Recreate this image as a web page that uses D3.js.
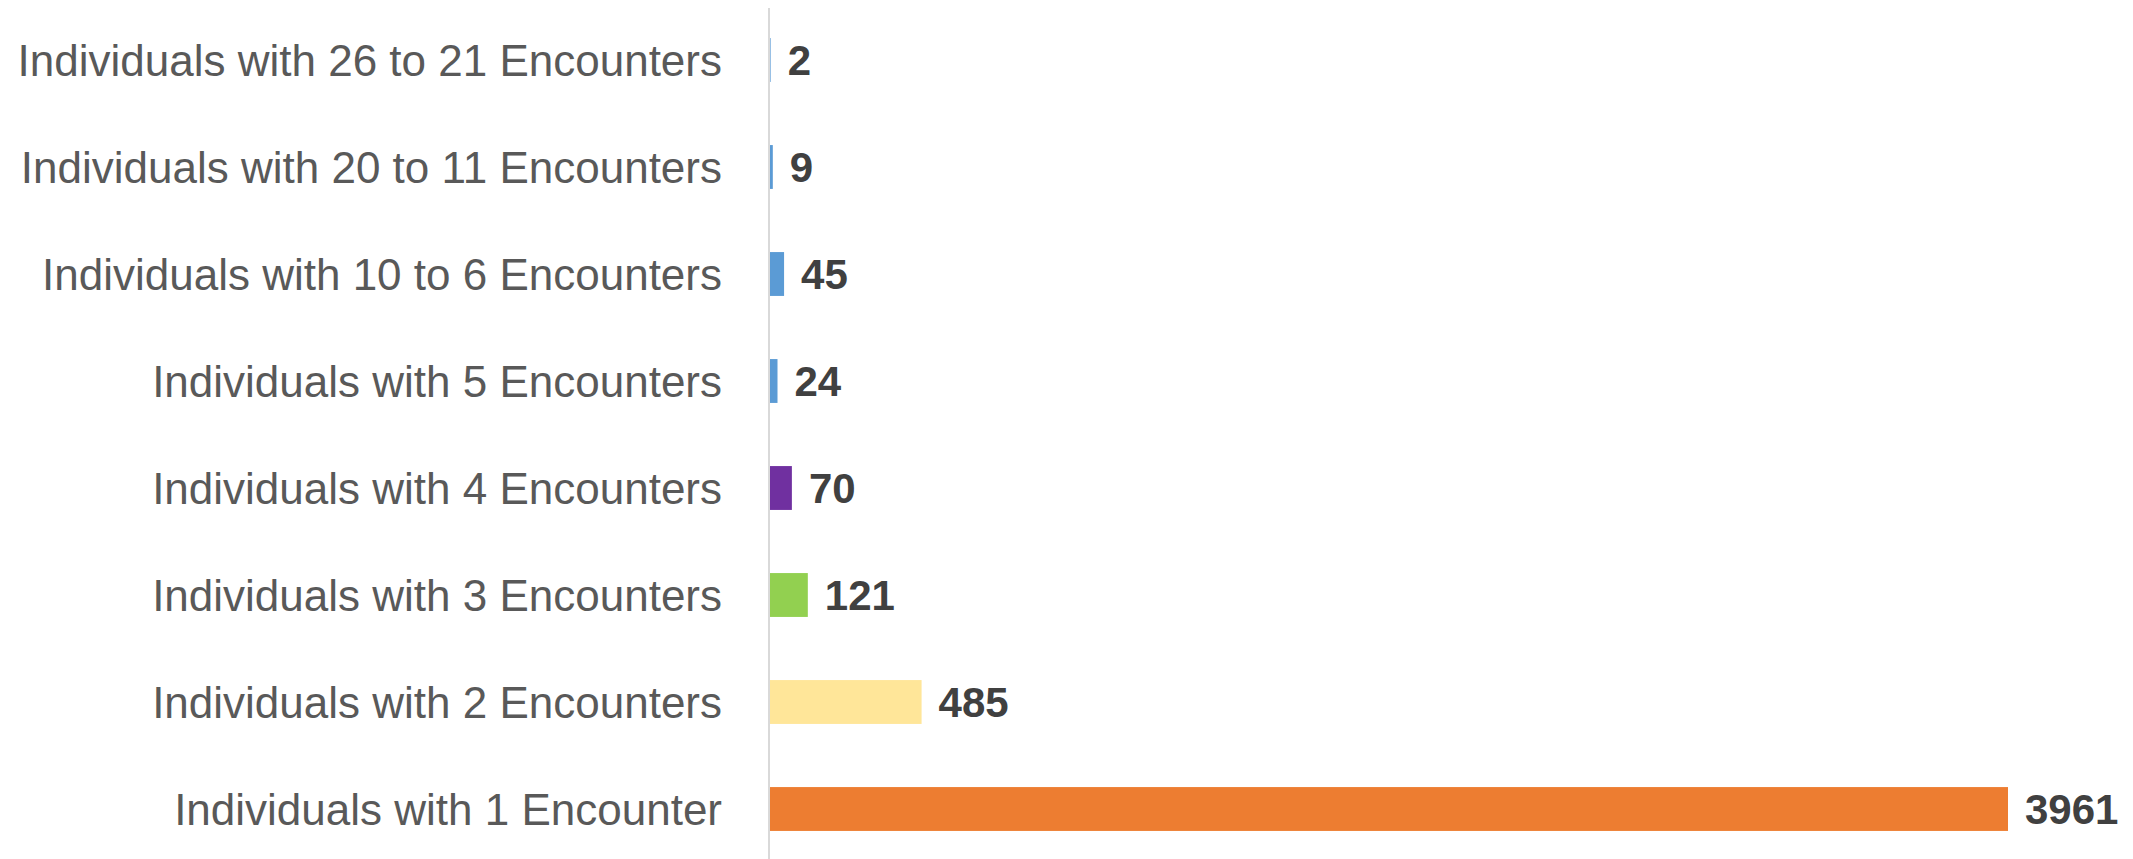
<!DOCTYPE html>
<html>
<head>
<meta charset="utf-8">
<script src="https://cdn.jsdelivr.net/npm/d3@7"></script>
<style>
  body { margin: 0; background: #fff; }
  svg { display: block; }
</style>
</head>
<body>
<div id="chart"></div>
<script>
// categories top to bottom, as in the chart
let categories = [
    "Individuals with 26 to 21 Encounters",
    "Individuals with 20 to 11 Encounters",
    "Individuals with 10 to 6 Encounters",
    "Individuals with 5 Encounters",
    "Individuals with 4 Encounters",
    "Individuals with 3 Encounters",
    "Individuals with 2 Encounters",
    "Individuals with 1 Encounter"
];
let values = [2, 9, 45, 24, 70, 121, 485, 3961];
let colors = ["#5b9bd5", "#5b9bd5", "#5b9bd5", "#5b9bd5", "#7030a0", "#92d050", "#ffe699", "#ed7d31"];

let width = 2133, height = 859;

let data = categories.map(function (c, i) {
    return { cat: c, value: values[i], color: colors[i] };
});

let svg = d3.select("#chart")
    .append("svg")
    .attr("width", width)
    .attr("height", height);

let x = d3.scaleLinear()
    .domain([0, d3.max(values)])
    .range([770, 2008]);

let y = d3.scaleBand()
    .domain(categories)
    .range([6.5, 862.5])
    .paddingInner(0.59)
    .paddingOuter(0.295);

// category labels
svg.append("g")
    .selectAll("text")
    .data(data)
    .enter()
    .append("text")
    .attr("x", 722)
    .attr("y", function (d) { return y(d.cat) + y.bandwidth() / 2 })
    .attr("text-anchor", "end")
    .attr("dominant-baseline", "central")
    .attr("font-family", "'Liberation Sans', Arial, sans-serif")
    .attr("font-size", 44)
    .attr("fill", "#595959")
    .text(function (d) { return d.cat });

// bars
svg.append("g")
    .selectAll("rect")
    .data(data)
    .enter()
    .append("rect")
    .attr("x", x(0))
    .attr("y", function (d) { return y(d.cat) })
    .attr("width", function (d) { return x(d.value) - x(0) })
    .attr("height", y.bandwidth())
    .attr("fill", function (d) { return d.color });

// vertical axis line
svg.append("line")
    .attr("x1", x(0) - 1)
    .attr("x2", x(0) - 1)
    .attr("y1", 8)
    .attr("y2", height)
    .attr("stroke", "#d9d9d9")
    .attr("stroke-width", 2);

// value labels
svg.append("g")
    .selectAll("text")
    .data(data)
    .enter()
    .append("text")
    .attr("x", function (d) { return x(d.value) + 17 })
    .attr("y", function (d) { return y(d.cat) + y.bandwidth() / 2 })
    .attr("dominant-baseline", "central")
    .attr("font-family", "'Liberation Sans', Arial, sans-serif")
    .attr("font-weight", "bold")
    .attr("font-size", 42)
    .attr("fill", "#404040")
    .text(function (d) { return d.value });
</script>
</body>
</html>
